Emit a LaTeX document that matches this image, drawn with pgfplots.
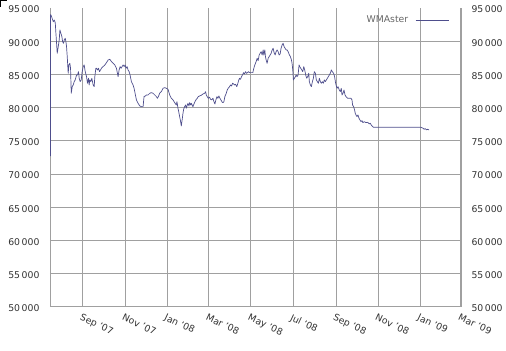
\documentclass[border=0pt]{standalone}
\usepackage{fontspec}
\setmainfont{DejaVu Sans}
\usepackage{pgfplots}
\pgfplotsset{compat=1.18}
\usepackage{pgfplotstable}
\usetikzlibrary{calc}
\definecolor{serie}{RGB}{78,78,140}
\definecolor{gridc}{RGB}{160,160,160}
\definecolor{labc}{RGB}{50,50,50}

\pgfplotstableread{
day value
-46.9 72700
-46.7 94000
-46.2 93950
-45.2 93690
-42.8 92940
-41.4 93190
-39.9 92790
-39.0 91190
-38.0 89680
-37.1 88170
-35.6 89180
-34.2 90180
-33.2 91690
-31.8 91190
-30.3 90680
-29.3 89930
-27.9 89680
-26.9 90180
-25.5 90430
-24.5 89930
-23.6 89180
-22.6 87670
-21.2 85160
-20.2 86420
-18.8 86670
-17.8 85920
-16.8 82150
-15.4 83150
-14.0 83400
-12.5 83910
-11.1 84160
-9.1 84910
-7.7 84910
-6.3 85410
-5.3 84410
-3.9 83910
-2.4 84160
-1.0 85410
0.5 86170
1.9 86420
3.4 85410
5.3 84660
6.7 83660
8.2 84410
9.1 83400
10.1 84160
11.5 83910
13.0 84410
14.9 83400
16.4 83150
17.3 84660
18.8 85920
19.7 85920
21.2 85660
22.6 85920
24.1 85410
25.5 85660
26.9 85920
29.3 86170
31.8 86420
34.2 86770
36.6 87170
39.0 87270
41.4 86920
43.8 86670
46.2 86420
48.6 85920
50.0 85160
51.0 84660
52.4 85660
53.9 86170
55.3 85920
56.8 86170
58.2 86420
59.7 86170
61.1 86420
62.5 85920
64.0 86170
65.4 85660
66.9 85410
68.3 84910
70.2 83910
72.6 83400
74.1 82900
76.0 81900
77.5 81150
79.9 80640
82.3 80240
84.7 80140
87.1 80140
88.5 81650
90.4 81750
91.9 81900
94.3 81900
96.7 82150
99.1 82250
101.5 82150
103.9 81900
106.3 81650
107.8 81400
109.2 81650
111.1 82150
113.5 82400
115.9 82900
118.4 83000
120.8 82900
123.2 82750
125.6 81900
128.0 81400
130.4 81150
132.8 80740
135.2 80390
136.1 80890
137.6 79890
138.6 79390
140.0 78640
141.4 77880
142.4 77230
143.9 78380
144.8 79140
145.8 79740
147.2 80140
148.7 80390
149.6 79890
151.1 80390
152.0 80640
153.5 80240
154.4 80740
155.9 80390
156.8 80640
159.2 80140
160.7 80540
162.1 80890
164.1 81250
165.5 81400
166.9 81650
168.9 81750
171.3 81850
173.7 82050
176.1 82150
177.5 82400
178.5 81900
179.9 81650
181.4 81400
183.3 81550
184.7 81250
186.2 81150
188.1 81400
189.6 80890
191.0 80540
192.4 81150
193.9 81650
195.3 81400
196.8 81750
198.2 81400
199.7 81150
201.1 80890
202.5 80740
204.0 80890
205.4 81650
207.4 82150
208.8 82650
210.2 82900
212.2 83150
213.6 83400
215.1 83250
216.5 83660
217.9 83560
219.4 83400
220.8 83510
222.7 83150
224.2 83660
225.6 84160
226.6 84410
228.0 84260
229.5 84660
230.9 84910
232.4 85260
233.8 85060
235.3 85410
236.7 85160
238.1 85260
239.6 85410
241.0 85260
243.4 85260
245.8 85260
247.3 85920
248.7 86420
250.6 86920
252.1 87420
253.5 87070
255.0 87920
256.4 88170
257.9 88420
259.3 87920
260.8 88680
261.7 87920
263.2 88680
264.1 87670
265.1 87170
266.5 86670
268.0 87420
269.4 87670
270.9 87920
272.3 88170
273.8 88680
275.2 88930
276.6 88270
278.1 87920
279.5 88420
281.0 88680
282.4 88420
283.9 87920
285.3 88070
286.7 88930
288.2 89430
289.6 89680
291.1 89180
292.5 88930
294.0 88680
295.4 88680
296.9 88420
298.8 87920
300.2 87670
301.7 87170
302.6 86670
303.6 85660
304.5 84160
306.0 84410
307.4 84660
308.4 84910
309.8 84660
311.3 84910
312.7 86420
313.7 86170
315.1 85920
316.6 85660
318.0 85410
319.5 86170
320.9 85660
322.3 84910
323.8 84410
325.2 84660
326.7 85160
327.6 83910
329.1 83400
330.5 83150
332.0 83910
333.4 84410
334.8 85410
336.3 85160
337.7 84160
339.2 83910
340.6 83660
342.1 84410
343.5 83910
344.9 83660
346.4 83910
347.8 83660
349.3 84160
350.7 83910
352.2 84160
353.6 84410
355.1 84660
356.5 84910
357.9 85160
359.4 85660
360.8 85410
362.7 85160
364.1 84660
365.2 83910
366.2 83400
367.6 82900
369.1 83150
370.9 82650
372.4 82400
373.8 82900
374.8 81900
376.3 82150
377.7 82650
379.2 81900
380.6 81650
382.9 81400
385.4 81400
387.8 81400
389.3 81150
390.1 80390
391.6 80140
393.0 79640
394.0 79140
395.0 78890
396.5 78640
397.9 78890
399.4 78380
400.8 78130
402.3 77880
403.7 78030
405.1 77730
407.0 77880
409.5 77730
411.8 77780
414.2 77530
415.7 77630
417.1 77380
419.0 77130
420.4 77030
488.8 77030
492.2 76880
493.6 76730
495.1 76830
496.9 76630
498.4 76730
500.8 76630
}\wmdata

\begin{document}
\begin{tikzpicture}
\begin{axis}[
  width=411.5pt, height=299pt, scale only axis,
  xmin=-47.6, xmax=547, ymin=50000, ymax=95000,
  axis line style={draw=none},
  major tick length=0pt,
  xtick={0,61,122,182,243,304,366,427,488,547},
  xticklabels={Sep '07,Nov '07,Jan '08,Mar '08,May '08,Jul '08,Sep '08,Nov '08,Jan '09,Mar '09},
  ytick={50000,55000,...,90000},
  extra y ticks={95000},
  extra y tick style={grid=none},
  scaled y ticks=false,
  xmajorgrids, ymajorgrids,
  grid style={gridc, line width=0.8pt},
  /pgf/number format/assume math mode=true,
  /pgf/number format/1000 sep={\,},
  tick label style={font=\fontsize{9.3}{11}\selectfont, text=labc},
  yticklabel style={anchor=east, xshift=-7pt, yshift=-1.5pt},
  xticklabel style={rotate=-25, anchor=north west, xshift=-1pt, yshift=-3pt},
  legend style={at={(1,1)}, anchor=north east, xshift=-9pt, yshift=-4pt,
    draw=none, fill=none, font=\fontsize{9.3}{11}\selectfont, text=black!60,
    /tikz/every odd column/.append style={column sep=5pt}},
  legend plot pos=right,
]
\draw[gridc, line width=0.8pt] (rel axis cs:0,1) -- (rel axis cs:0,0) -- (rel axis cs:1,0);
\draw[gridc, line width=1.4pt] (rel axis cs:1,0) -- (rel axis cs:1,1);
\addplot[serie, line width=0.7pt, line join=round,
  legend image code/.code={\draw[serie, line width=0.7pt] (0pt,0pt) -- (33pt,0pt);}]
  table[x=day, y=value] {\wmdata};
\addlegendentry{WMAster}
\coordinate (LL) at (rel axis cs:0,0);
\end{axis}
\begin{axis}[
  width=411.5pt, height=299pt, scale only axis,
  xmin=-47.6, xmax=547, ymin=50000, ymax=95000,
  axis line style={draw=none},
  major tick length=0pt,
  xtick=\empty,
  ytick={50000,55000,...,95000},
  scaled y ticks=false,
  yticklabel pos=right,
  /pgf/number format/assume math mode=true,
  /pgf/number format/1000 sep={\,},
  tick label style={font=\fontsize{9.3}{11}\selectfont, text=labc},
  yticklabel style={anchor=west, xshift=7pt, yshift=-1.5pt},
]
\end{axis}
\draw[black, line width=1pt] ($(LL)+(-49.5pt,300pt)$) -- ($(LL)+(-49.5pt,306.5pt)$) -- ($(LL)+(-43pt,306.5pt)$);
\path ($(LL)+(-50pt,-44pt)$) rectangle ($(LL)+(456pt,307pt)$);
\end{tikzpicture}
\end{document}
